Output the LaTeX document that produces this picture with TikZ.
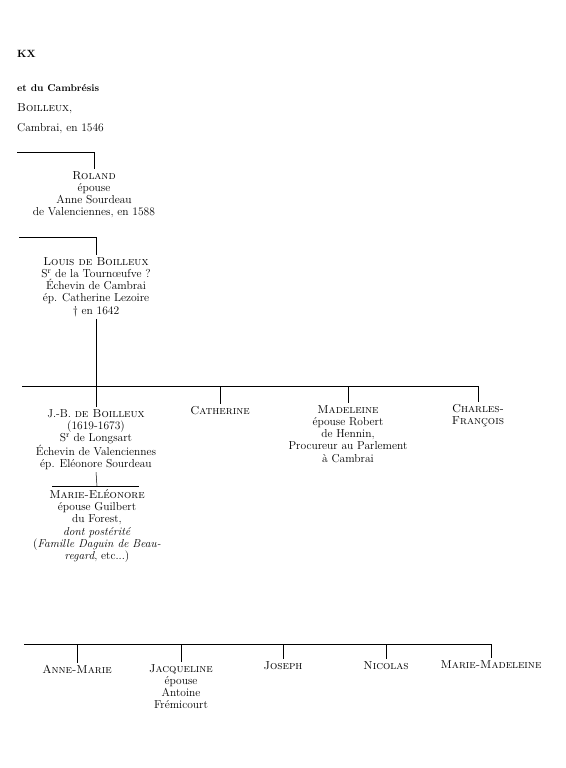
\documentclass[tikz,border=0pt]{standalone}
\begin{document}
\begin{tikzpicture}[x=1pt,y=-1pt,
    every node/.style={font=\fontsize{11.5}{12.3}\selectfont, align=center, inner sep=2pt},
    lbl/.style={anchor=base west, inner sep=0pt},
    pers/.style={anchor=north},
    bar/.style={line width=0.6pt},
    tick/.style={line width=0.5pt}]
      \useasboundingbox (0,0) rectangle (565,768);
      % heading
      \draw
        (17,58) node[lbl, font=\fontsize{10.5}{12}\selectfont\bfseries] (kx){KX}
        (17,91) node[lbl, font=\fontsize{10}{12}\selectfont\bfseries] (cambresis){et du Cambrésis}
        (17,111) node[lbl] (boilleux){\textsc{Boilleux},}
        (17,131) node[lbl] (cambrai){Cambrai, en 1546};
      % bar ends
      \coordinate (b1l) at (17,152);
      \coordinate (b1r) at (94,152);
      \coordinate (b2l) at (19,237);
      \coordinate (b2r) at (96,237);
      \coordinate (b3l) at (22,386);
      \coordinate (b3r) at (478,386);
      \coordinate (b3a) at (96,386);
      \coordinate (b3b) at (220,386);
      \coordinate (b3c) at (348,386);
      \coordinate (b4l) at (52,486);
      \coordinate (b4r) at (139,486);
      \coordinate (b4a) at (97,486);
      \coordinate (b5l) at (24,644);
      \coordinate (b5r) at (491,644);
      \coordinate (b5a) at (77,644);
      \coordinate (b5b) at (181,644);
      \coordinate (b5c) at (283,644);
      \coordinate (b5d) at (386,644);
      % persons
      \draw
        (94,169) node[pers] (roland){\textsc{Roland}\\épouse\\Anne Sourdeau\\de Valenciennes, en 1588}
        (96,255) node[pers] (louis){\textsc{Louis de Boilleux}\\S\textsuperscript{r} de la Tournœufve ?\\Échevin de Cambrai\\ép. Catherine Lezoire\\\dag{} en 1642}
        (96,407) node[pers] (jb){J.-B. \textsc{de Boilleux}\\(1619-1673)\\S\textsuperscript{r} de Longsart\\Échevin de Valenciennes\\ép. Eléonore Sourdeau}
        (220,404) node[pers] (catherine){\textsc{Catherine}}
        (348,403) node[pers] (madeleine){\textsc{Madeleine}\\épouse Robert\\de Hennin,\\Procureur au Parlement\\à Cambrai}
        (478,402) node[pers] (charles){\textsc{Charles-}\\\textsc{François}}
        (97,487) node[pers] (marieel){\textsc{Marie-Eléonore}\\épouse Guilbert\\du Forest,\\\textit{dont postérité}\\(\textit{Famille Daguin de Beau-}\\\textit{regard}, etc...)}
        (77,663) node[pers] (annemarie){\textsc{Anne-Marie}}
        (181,662) node[pers] (jacqueline){\textsc{Jacqueline}\\épouse\\Antoine\\Frémicourt}
        (283,659) node[pers] (joseph){\textsc{Joseph}}
        (386,659) node[pers] (nicolas){\textsc{Nicolas}}
        (491,658) node[pers] (mariemad){\textsc{Marie-Madeleine}};
      \begin{scope}[-]
        \draw[bar] (b1l) to (b1r);
        \draw[bar] (b2l) to (b2r);
        \draw[bar] (b3l) to (b3r);
        \draw[bar] (b4l) to (b4r);
        \draw[bar] (b5l) to (b5r);
        \draw[tick] (b1r) to (roland.north);
        \draw[tick] (b2r) to (louis.north);
        \draw[tick] (louis.south) to (b3a);
        \draw[tick] (b3a) to (jb.north);
        \draw[tick] (b3b) to (catherine.north);
        \draw[tick] (b3c) to (madeleine.north);
        \draw[tick] (b3r) to (charles.north);
        \draw[tick] (jb.south) to (b4a);
        \draw[tick] (b5a) to (annemarie.north);
        \draw[tick] (b5b) to (jacqueline.north);
        \draw[tick] (b5c) to (joseph.north);
        \draw[tick] (b5d) to (nicolas.north);
        \draw[tick] (b5r) to (mariemad.north);
      \end{scope}
    \end{tikzpicture}
\end{document}
